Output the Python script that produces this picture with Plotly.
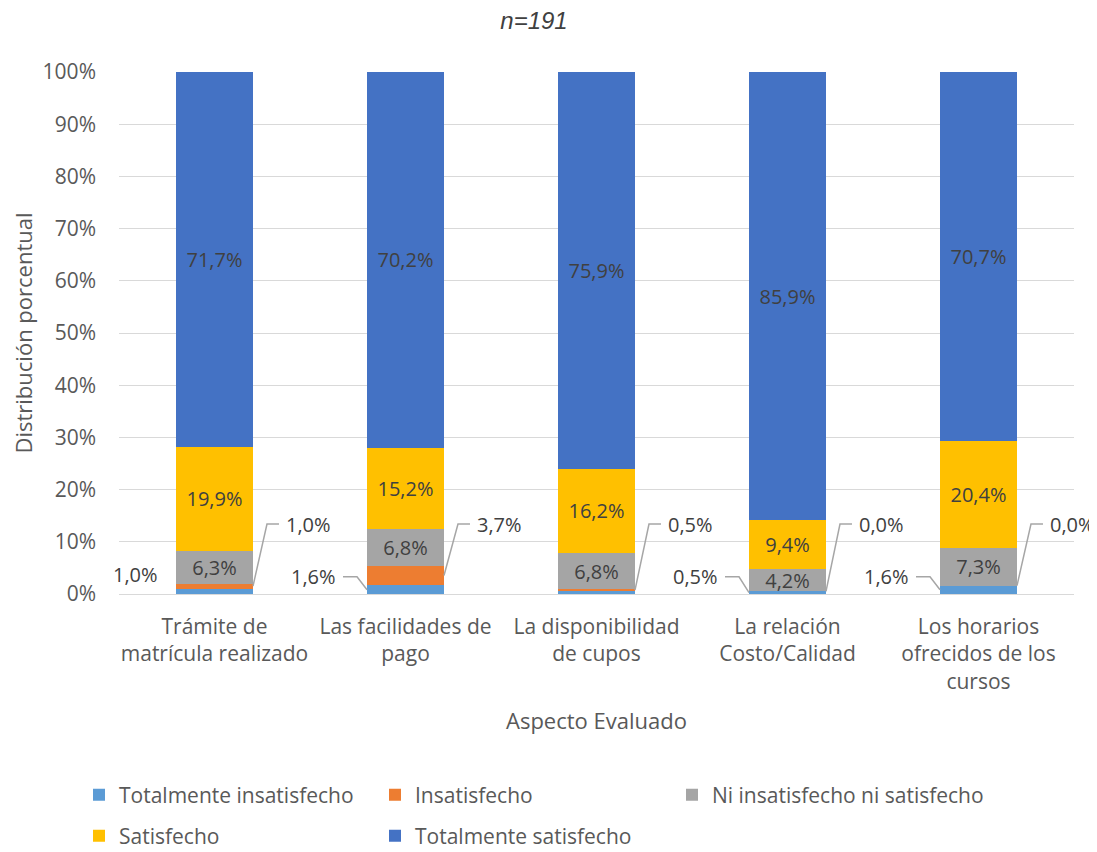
import plotly.graph_objects as go

# ---------------- data ----------------
categories = [
    "Trámite de<br>matrícula realizado",
    "Las facilidades de<br>pago",
    "La disponibilidad<br>de cupos",
    "La relación<br>Costo/Calidad",
    "Los horarios<br>ofrecidos de los<br>cursos",
]
series_names = [
    "Totalmente insatisfecho",
    "Insatisfecho",
    "Ni insatisfecho ni satisfecho",
    "Satisfecho",
    "Totalmente satisfecho",
]
tot_insat = [1.0, 1.6, 0.5, 0.5, 1.6]
insat = [1.0, 3.7, 0.5, 0.0, 0.0]
ni_ni = [6.3, 6.8, 6.8, 4.2, 7.3]
satis = [19.9, 15.2, 16.2, 9.4, 20.4]
tot_satis = [71.7, 70.2, 75.9, 85.9, 70.7]
y_ticks = [0, 10, 20, 30, 40, 50, 60, 70, 80, 90, 100]

# ---------------- style ----------------
colors = ["#5B9BD5", "#ED7D31", "#A5A5A5", "#FFC000", "#4472C4"]
FONT = "Open Sans"
LABEL_C = "#404040"
AXIS_C = "#595959"
GRID_C = "#D9D9D9"
LEADER_C = "#A6A6A6"
LBL_SIZE = 20
BAR_W = 0.403
PX = 1 / 191.0  # one pixel in x data units
# left-side callout style per bar for "Totalmente insatisfecho"
left_style = ["plain", "line", None, "line", "line"]

series = [tot_insat, insat, ni_ni, satis, tot_satis]
x = list(range(len(categories)))


def fmt(v):
    return f"{v:.1f}".replace(".", ",") + "%"


totals = [sum(s[i] for s in series) for i in x]
norm = [[s[i] / totals[i] * 100 for i in x] for s in series]

fig = go.Figure()
legend_ids = ["legend", "legend2", "legend3", "legend4", "legend5"]
for k, (name, vals) in enumerate(zip(series_names, series)):
    show_text = k >= 2
    fig.add_trace(go.Bar(
        x=x, y=vals, name=name, width=BAR_W,
        marker=dict(color=colors[k], line=dict(width=0)),
        text=[fmt(v) for v in vals] if show_text else None,
        textposition="inside" if show_text else "none",
        insidetextanchor="middle",
        constraintext="none",
        textangle=0,
        textfont=dict(family=FONT, size=LBL_SIZE, color=LABEL_C),
        legend=legend_ids[k],
        hovertemplate="%{x}: " + name + "<extra></extra>",
    ))

# ---------------- callouts ----------------
RIGHT_Y = 13.4
LEFT_Y = 3.3
for i in x:
    left = i - BAR_W / 2
    right = i + BAR_W / 2
    # Insatisfecho -> right callout
    mid_ins = norm[0][i] + norm[1][i] / 2
    fig.add_trace(go.Scatter(
        x=[right, right + 14 * PX, right + 26 * PX],
        y=[mid_ins, RIGHT_Y, RIGHT_Y],
        mode="lines", line=dict(color=LEADER_C, width=1.5),
        showlegend=False, hoverinfo="skip"))
    fig.add_annotation(x=right + 31 * PX, y=RIGHT_Y, text=fmt(insat[i]),
                       showarrow=False, xanchor="left", yanchor="middle",
                       font=dict(family=FONT, size=LBL_SIZE, color=LABEL_C))
    # Totalmente insatisfecho -> left callout
    st = left_style[i]
    if st == "line":
        mid_t = norm[0][i] / 2
        fig.add_trace(go.Scatter(
            x=[left, left - 10 * PX, left - 24 * PX],
            y=[mid_t, LEFT_Y, LEFT_Y],
            mode="lines", line=dict(color=LEADER_C, width=1.5),
            showlegend=False, hoverinfo="skip"))
        fig.add_annotation(x=left - 29 * PX, y=LEFT_Y, text=fmt(tot_insat[i]),
                           showarrow=False, xanchor="right", yanchor="middle",
                           font=dict(family=FONT, size=LBL_SIZE, color=LABEL_C))
    elif st == "plain":
        fig.add_annotation(x=left - 16 * PX, y=3.8, text=fmt(tot_insat[i]),
                           showarrow=False, xanchor="right", yanchor="middle",
                           font=dict(family=FONT, size=LBL_SIZE, color=LABEL_C))

# ---------------- layout ----------------
# the page body adds an 8px offset; work in page pixels and subtract it
OFF = 8
W, H = 1097 - OFF, 852 - OFF
plot_left, plot_right = 119, 1074   # page pixels
plot_top, plot_bottom = 72, 594
left_m = plot_left - OFF
right_m = 1097 - plot_right
top_m = plot_top - OFF
bottom_m = 852 - plot_bottom
plot_h = plot_bottom - plot_top
plot_w = plot_right - plot_left


def py(pix):
    return (plot_bottom - pix) / plot_h


def px(pix):
    return (pix - plot_left) / plot_w


leg_common = dict(orientation="h", font=dict(family=FONT, size=21, color=AXIS_C),
                  bgcolor="rgba(0,0,0,0)", borderwidth=0, yanchor="middle",
                  xanchor="left", itemclick=False, itemdoubleclick=False)
# (text start x, row centre y) in page pixels
legend_pos = [(119, 795), (415, 795), (712, 795), (119, 836), (415, 836)]
legend_layout = {}
for lid, (lx, ly) in zip(legend_ids, legend_pos):
    legend_layout[lid] = dict(leg_common, x=px(lx - 40), y=py(ly))

fig.update_layout(
    width=W, height=H, autosize=False,
    barmode="stack", barnorm="percent",
    plot_bgcolor="white", paper_bgcolor="white",
    margin=dict(l=left_m, r=right_m, t=top_m, b=bottom_m, autoexpand=False),
    title=dict(text="<i>n=191</i>", x=(534 - OFF) / W, xanchor="center",
               y=1 - 4 / H, yanchor="top", yref="container",
               pad=dict(t=0, b=0, l=0, r=0),
               font=dict(family="Liberation Sans", size=24, color=LABEL_C)),
    xaxis=dict(tickmode="array", tickvals=x, ticktext=categories,
               range=[-0.5, len(categories) - 0.5], showgrid=False,
               zeroline=False, showline=False, ticks="", automargin=False,
               tickfont=dict(family=FONT, size=21, color=AXIS_C),
               ticklabelstandoff=18,
               title=dict(text="Aspecto Evaluado", standoff=20,
                          font=dict(family=FONT, size=22, color=AXIS_C))),
    yaxis=dict(range=[0, 100], tickmode="array", tickvals=y_ticks,
               ticktext=[f"{t}%" for t in y_ticks],
               showgrid=True, gridcolor=GRID_C, gridwidth=1.3,
               zeroline=True, zerolinecolor=GRID_C, zerolinewidth=1.3,
               showline=False, ticks="", ticklabelstandoff=22, automargin=False,
               tickfont=dict(family=FONT, size=21, color=AXIS_C),
               title=dict(text="Distribución porcentual", standoff=7,
                          font=dict(family=FONT, size=22, color=AXIS_C))),
    showlegend=True,
    **legend_layout,
)

fig.write_html("out.html")
